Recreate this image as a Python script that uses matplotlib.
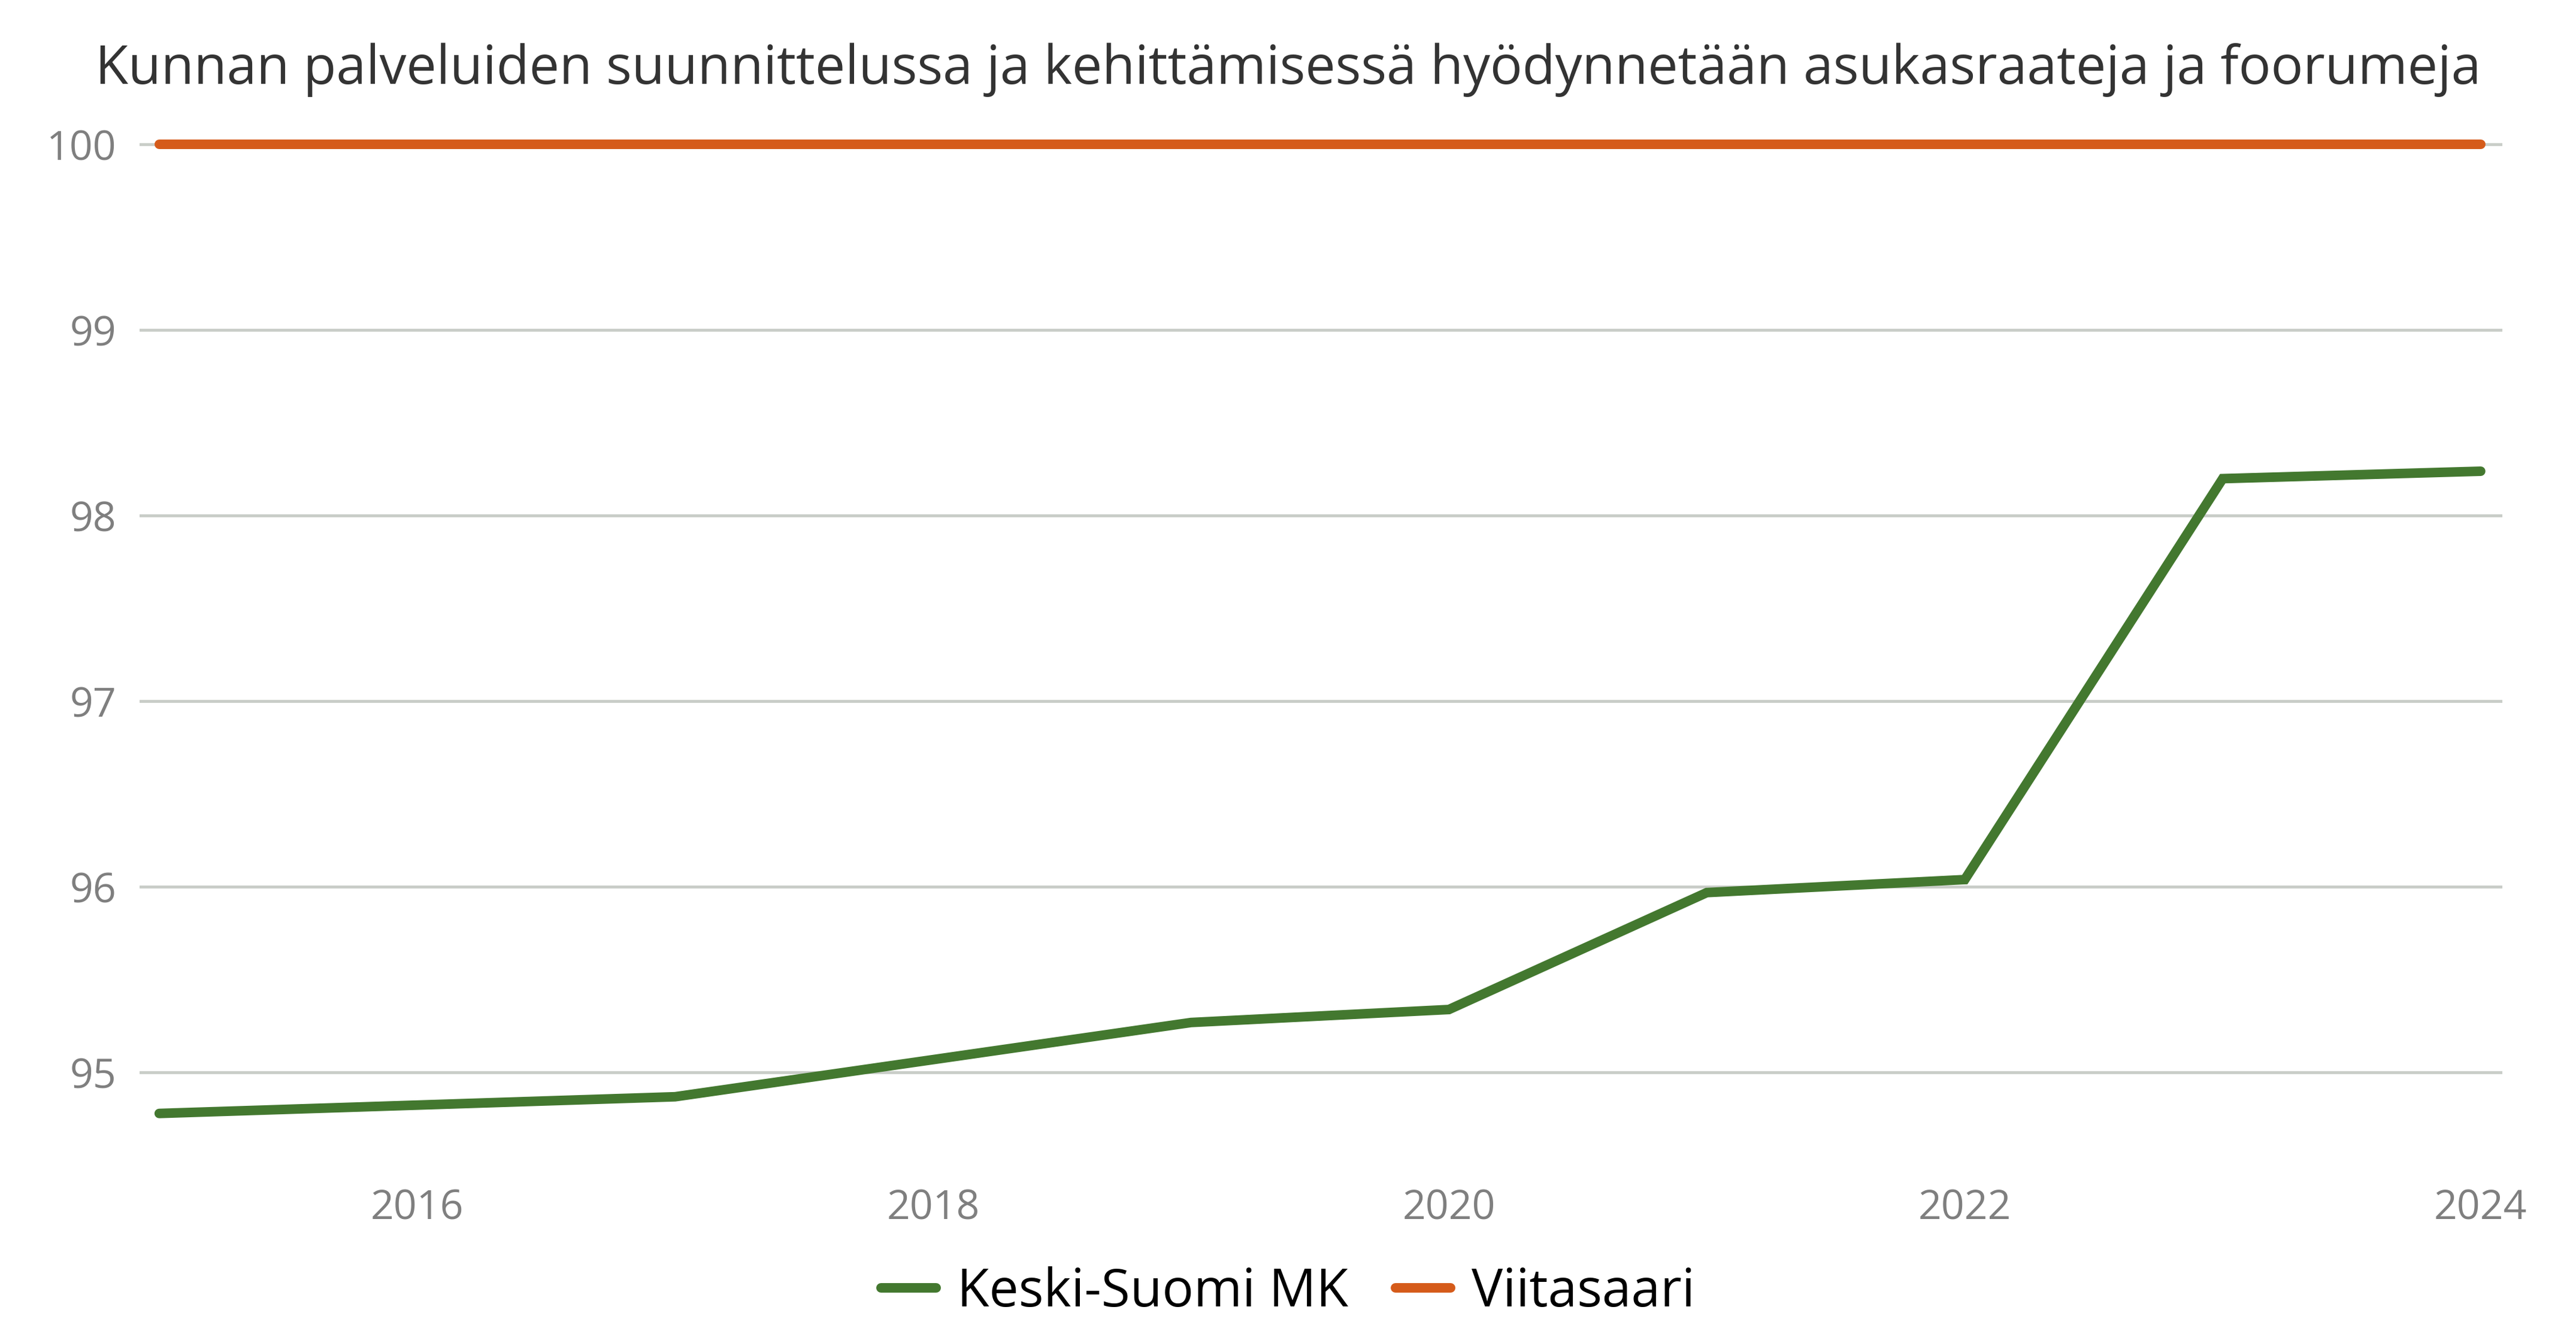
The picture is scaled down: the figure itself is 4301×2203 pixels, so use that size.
import matplotlib
matplotlib.use("Agg")
import matplotlib.pyplot as plt
from matplotlib.lines import Line2D

title = "Kunnan palveluiden suunnittelussa ja kehittämisessä hyödynnetään asukasraateja ja foorumeja"
years_ks = [2015, 2017, 2019, 2020, 2021, 2022, 2023, 2024]
keski_suomi = [94.78, 94.87, 95.27, 95.34, 95.97, 96.04, 98.20, 98.24]
years_vi = [2015, 2016, 2017, 2018, 2019, 2020, 2021, 2022, 2023, 2024]
viitasaari = [100, 100, 100, 100, 100, 100, 100, 100, 100, 100]
series_names = ["Keski-Suomi MK", "Viitasaari"]
x_ticks = [2016, 2018, 2020, 2022, 2024]
y_ticks = [95, 96, 97, 98, 99, 100]

green = "#43782F"
orange = "#D55B1A"
grid_c = "#C9CDC8"
tick_c = "#7F7F7F"

plt.rcParams['font.family'] = ['Open Sans', 'DejaVu Sans']

fig = plt.figure(figsize=(43.01, 22.03), dpi=100)
ax = fig.add_axes([0.0542, 0.1305, 0.9171, 0.774])

for y in y_ticks:
    ax.axhline(y, color=grid_c, lw=3.5, zorder=1, solid_capstyle='round')

ax.plot(years_ks, keski_suomi, color=green, lw=11.5, solid_capstyle='round',
        solid_joinstyle='miter', zorder=3, clip_on=False)
ax.plot(years_vi, viitasaari, color=orange, lw=11.5, solid_capstyle='round',
        zorder=3, clip_on=False)

ax.set_xlim(2014.924, 2024.083)
ax.set_ylim(94.6, 100.1)
ax.set_xticks(x_ticks)
ax.set_xticklabels([str(v) for v in x_ticks])
ax.set_yticks(y_ticks)
ax.set_yticklabels([str(v) for v in y_ticks])
ax.tick_params(axis='both', length=0, labelsize=49, labelcolor=tick_c)
ax.tick_params(axis='y', pad=28)
ax.tick_params(axis='x', pad=50)
for s in ax.spines.values():
    s.set_visible(False)

fig.text(0.5, 0.947, title, ha='center', va='center', fontsize=64.5, color='#333333')

handles = [Line2D([0], [0], color=green, lw=11.5, solid_capstyle='round'),
           Line2D([0], [0], color=orange, lw=11.5, solid_capstyle='round')]
fig.legend(handles, series_names, loc='center', bbox_to_anchor=(0.5, 0.02),
           ncol=2, frameon=False, fontsize=63, handlelength=1.05,
           handletextpad=0.4, columnspacing=0.9)

fig.savefig("out.png", dpi=100)
